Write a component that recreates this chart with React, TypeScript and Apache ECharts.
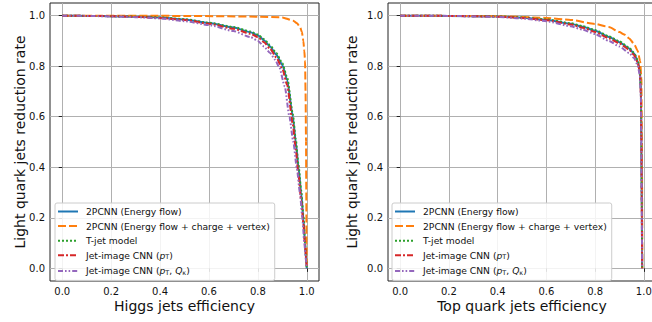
import React, { useEffect, useRef } from "react";
import * as echarts from "echarts";

// ---- Tick labels ----
const tickValues = [0, 0.2, 0.4, 0.6, 0.8, 1.0];

// ---- Series names ----
const seriesNames = [
  "2PCNN (Energy flow)",
  "2PCNN (Energy flow + charge + vertex)",
  "T-jet model",
  "Jet-image CNN (pT)",
  "Jet-image CNN (pT, Qκ)",
];
const legendLabels = [
  "2PCNN (Energy flow)",
  "2PCNN (Energy flow + charge + vertex)",
  "T-jet model",
  "Jet-image CNN ({i|p}{sub|T})",
  "Jet-image CNN ({i|p}{sub|T}, {i|Q}{sub|κ})",
];
const colors = ["#1f77b4", "#ff7f0e", "#2ca02c", "#d62728", "#9467bd"];
const dashes: any[] = ["solid", [8, 3], [2, 2], [6, 2, 2, 2], [5, 2, 1.6, 2, 1.6, 2]];

// ---- Higgs (left panel) ----
const higgsEffMain = [0, 0.1, 0.2, 0.3, 0.4, 0.5, 0.6, 0.7, 0.77, 0.8, 0.825, 0.85, 0.875, 0.9, 0.92, 0.943, 0.955, 0.966, 0.977, 0.986, 0.993, 0.998, 1.0];
const higgsRejBlue = [1, 0.999, 0.998, 0.996, 0.993, 0.985, 0.971, 0.953, 0.934, 0.922, 0.903, 0.878, 0.846, 0.805, 0.745, 0.6, 0.5, 0.4, 0.3, 0.2, 0.1, 0.03, 0];
const higgsRejGreen = [1, 0.999, 0.998, 0.996, 0.993, 0.986, 0.972, 0.955, 0.937, 0.925, 0.907, 0.883, 0.852, 0.812, 0.754, 0.61, 0.51, 0.41, 0.31, 0.21, 0.1, 0.03, 0];
const higgsRejRed = [1, 0.999, 0.998, 0.995, 0.991, 0.983, 0.968, 0.948, 0.928, 0.915, 0.895, 0.869, 0.835, 0.79, 0.725, 0.57, 0.47, 0.37, 0.27, 0.18, 0.09, 0.03, 0];
const higgsEffPurple = [0, 0.1, 0.2, 0.3, 0.4, 0.5, 0.6, 0.7, 0.77, 0.8, 0.825, 0.85, 0.87, 0.888, 0.91, 0.929, 0.945, 0.959, 0.972, 0.982, 0.99, 0.997, 1.0];
const higgsRejPurple = [1, 0.999, 0.997, 0.994, 0.989, 0.978, 0.963, 0.939, 0.915, 0.9, 0.878, 0.852, 0.826, 0.795, 0.72, 0.6, 0.5, 0.4, 0.3, 0.2, 0.1, 0.03, 0];
const higgsEffOrange = [0, 0.5, 0.8, 0.9, 0.945, 0.96, 0.973, 0.98, 0.986, 0.99, 0.993, 0.995, 0.997, 0.998, 0.999, 1.0];
const higgsRejOrange = [1, 0.999, 0.996, 0.993, 0.98, 0.97, 0.954, 0.935, 0.9, 0.86, 0.82, 0.7, 0.5, 0.3, 0.1, 0];

// ---- Top (right panel) ----
const topEffMain = [0, 0.2, 0.4, 0.5, 0.6, 0.7, 0.75, 0.8, 0.857, 0.9, 0.94, 0.96, 0.975, 0.984, 0.988, 0.99, 0.992, 0.993];
const topRejBlue = [1, 0.999, 0.997, 0.992, 0.984, 0.968, 0.956, 0.94, 0.915, 0.895, 0.87, 0.85, 0.82, 0.78, 0.7, 0.5, 0.2, 0];
const topRejGreen = [1, 0.999, 0.997, 0.993, 0.985, 0.97, 0.958, 0.943, 0.918, 0.898, 0.873, 0.853, 0.823, 0.783, 0.7, 0.5, 0.2, 0];
const topRejRed = [1, 0.999, 0.996, 0.991, 0.982, 0.965, 0.952, 0.935, 0.91, 0.89, 0.865, 0.844, 0.815, 0.775, 0.69, 0.5, 0.2, 0];
const topRejPurple = [1, 0.999, 0.995, 0.989, 0.978, 0.958, 0.944, 0.927, 0.9, 0.878, 0.852, 0.832, 0.803, 0.763, 0.68, 0.48, 0.2, 0];
const topEffOrange = [0, 0.2, 0.4, 0.6, 0.7, 0.8, 0.857, 0.9, 0.92, 0.94, 0.96, 0.975, 0.985, 0.99, 0.992, 0.994];
const topRejOrange = [1, 0.999, 0.998, 0.991, 0.983, 0.967, 0.955, 0.935, 0.925, 0.91, 0.888, 0.86, 0.82, 0.75, 0.5, 0];

const FONT = "DejaVu Sans";

function zip(xs: number[], ys: number[]) {
  return xs.map((x, i) => [x, ys[i]]);
}

export default function App() {
  const ref = useRef<HTMLDivElement>(null);
  useEffect(() => {
    if (!ref.current) return;
    const chart = echarts.init(ref.current, undefined, { renderer: "svg" });

    const panels = [
      {
        curves: [
          zip(higgsEffMain, higgsRejBlue),
          zip(higgsEffOrange, higgsRejOrange),
          zip(higgsEffMain, higgsRejGreen),
          zip(higgsEffMain, higgsRejRed),
          zip(higgsEffPurple, higgsRejPurple),
        ],
        xName: "Higgs jets efficiency",
        yGap: 23,
      },
      {
        curves: [
          zip(topEffMain, topRejBlue),
          zip(topEffOrange, topRejOrange),
          zip(topEffMain, topRejGreen),
          zip(topEffMain, topRejRed),
          zip(topEffMain, topRejPurple),
        ],
        xName: "Top quark jets efficiency",
        yGap: 29,
      },
    ];

    const grids = [
      { left: 50, top: 3, width: 269, height: 278 },
      { left: 388, top: 3, width: 268, height: 278 },
    ].map((g) => ({ ...g, show: true, borderColor: "#222", borderWidth: 1, backgroundColor: "transparent" }));

    const axisCommon = (i: number) => ({
      type: "value",
      gridIndex: i,
      min: -0.05,
      max: 1.05,
      axisLine: { show: false },
      axisTick: { show: true, customValues: tickValues, length: 3.5, lineStyle: { color: "#222" } },
      axisLabel: {
        customValues: tickValues,
        formatter: (v: number) => v.toFixed(1),
        fontFamily: FONT,
        fontSize: 10,
        color: "#111",
        margin: 5,
      },
      splitLine: { show: true, lineStyle: { color: "#b0b0b0", width: 1 } },
      nameMoveOverlap: false,
      nameTextStyle: { fontFamily: FONT, fontSize: 14, color: "#111" },
    });

    const xAxis = panels.map((p, i) => ({
      ...axisCommon(i),
      name: p.xName,
      nameLocation: "middle",
      nameGap: 18,
    }));
    const yAxis = panels.map((p, i) => ({
      ...axisCommon(i),
      name: "Light quark jets reduction rate",
      nameLocation: "middle",
      nameGap: p.yGap,
    }));

    const series: any[] = [];
    panels.forEach((p, gi) => {
      p.curves.forEach((data, si) => {
        series.push({
          type: "line",
          name: seriesNames[si],
          xAxisIndex: gi,
          yAxisIndex: gi,
          data,
          showSymbol: false,
          symbol: "none",
          smooth: 0.2,
          smoothMonotone: "x",
          clip: true,
          lineStyle: { color: colors[si], width: 2, type: dashes[si], cap: "butt" },
          itemStyle: { color: colors[si] },
          z: 2 + si,
        });
      });
    });

    const legendCommon = {
      orient: "vertical",
      top: 203,
      itemWidth: 20,
      itemHeight: 8,
      itemGap: 5.6,
      padding: [4, 5, 4, 2],
      backgroundColor: "rgba(255,255,255,0.85)",
      borderColor: "#cccccc",
      borderWidth: 1,
      borderRadius: 2,
      data: seriesNames,
      itemStyle: { opacity: 0 },
      formatter: (name: string) => legendLabels[seriesNames.indexOf(name)],
      textStyle: {
        fontFamily: FONT,
        fontSize: 9.2,
        color: "#111",
        padding: [0, 0, 0, 3],
        rich: {
          i: { fontFamily: FONT, fontSize: 9.2, fontStyle: "italic", color: "#111" },
          sub: { fontFamily: FONT, fontSize: 6.5, color: "#111", padding: [4, 0, 0, 0] },
        },
      },
      selectedMode: false,
    };

    chart.setOption({
      animation: false,
      grid: grids,
      xAxis,
      yAxis,
      legend: [
        { ...legendCommon, left: 55 },
        { ...legendCommon, left: 392 },
      ],
      series,
    });
    return () => chart.dispose();
  }, []);

  return (
    <div style={{ position: "fixed", left: 0, top: 0, width: 652, height: 322, overflow: "hidden", background: "#fff" }}>
      <div ref={ref} style={{ width: 664, height: 322 }} />
    </div>
  );
}
